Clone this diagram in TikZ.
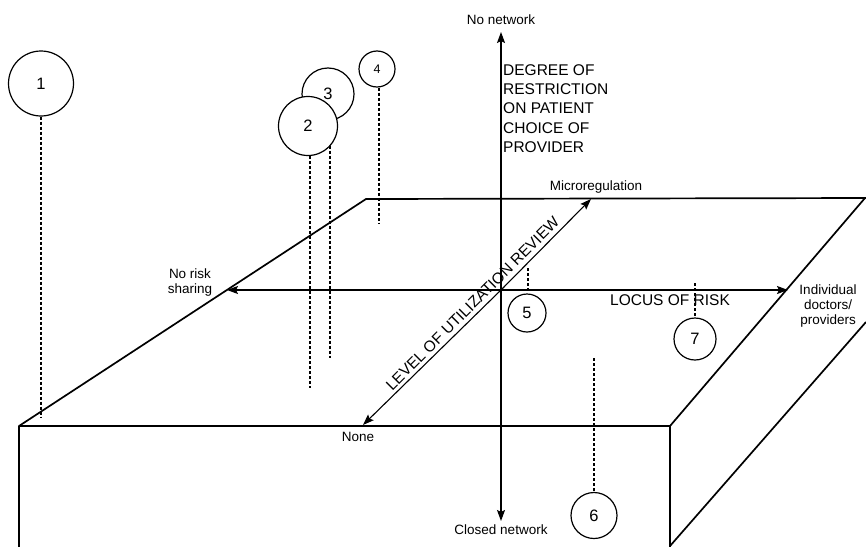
\documentclass[tikz,border=0pt]{standalone}
\usepackage{fontspec}
\setmainfont{Liberation Sans}
\usetikzlibrary{arrows.meta}
\begin{document}
\begin{tikzpicture}[x=1pt,y=-1pt,
  boxline/.style={line width=1.7pt, line join=round},
  axisarrow/.style={line width=1.1pt, -{Stealth[length=11pt,width=8pt,inset=2pt]}},
  drop/.style={line width=1.4pt, dash pattern=on 3pt off 2pt},
  num/.style={circle, draw, line width=1.2pt, inner sep=0pt, fill=white, font=\fontsize{16.5}{16.5}\selectfont},
  small/.style={font=\fontsize{13.5}{15}\selectfont, inner sep=0pt},
  caps/.style={font=\fontsize{15.5}{19.3}\selectfont, inner sep=0pt}]
\useasboundingbox (0,0) rectangle (866,546);
\clip (0,0) rectangle (866,546);
% box
\coordinate (A) at (19,426);
\coordinate (B) at (670,426);
\coordinate (C) at (366,199);
\coordinate (D) at (865,198);
\coordinate (E) at (870,198);
\coordinate (Abot) at (19,550);
\coordinate (Bbot) at (670,550);
\coordinate (Bb) at (670,546);
\coordinate (Dlow) at (866,322);
\draw[boxline] (A) -- (C) -- (E);
\draw[boxline] (D) -- (B) -- (A) -- (Abot);
\draw[boxline] (B) -- (Bbot);
\draw[boxline] (Bb) -- (Dlow);
% axes
\coordinate (O) at (501,290);
\coordinate (up) at (501,32);
\coordinate (down) at (501,521);
\coordinate (left) at (227,290);
\coordinate (right) at (788,290);
\coordinate (micro) at (591,199);
\coordinate (none) at (363,425);
\draw[axisarrow] (O) -- (up);
\draw[axisarrow] (O) -- (down);
\draw[axisarrow] (O) -- (left);
\draw[axisarrow] (O) -- (right);
\draw[axisarrow] (O) -- (micro);
\draw[axisarrow] (O) -- (none);
% labels
\node[small] (lnonet) at (501,20) {No network};
\node[small] (lclosed) at (501,530) {Closed network};
\node[small] (lmicro) at (596,187) {Microregulation};
\node[small] (lnone) at (358,437) {None};
\node[small, align=center] (lnorisk) at (190,283) {No risk\\sharing};
\node[small, align=center] (lindiv) at (828,306) {Individual\\doctors/\\providers};
\node[caps, anchor=west, align=left] (ldeg) at (503,108.5) {DEGREE OF\\RESTRICTION\\ON PATIENT\\CHOICE OF\\PROVIDER};
\node[caps] (llocus) at (670,300) {LOCUS OF RISK};
\node[caps, rotate=45] (llevel) at (472.5,303.5) {LEVEL OF UTILIZATION REVIEW};
% circles and drop lines
\node[num, minimum size=65pt] (c1) at (41,83.5) {1};
\coordinate (p1) at (41,418);
\draw[drop] (c1.south) -- (p1);
\node[num, minimum size=52pt] (c3) at (328,94) {3};
\coordinate (p3) at (330,358);
\draw[drop] (p3 |- c3.south) -- (p3);
\node[num, minimum size=59pt] (c2) at (308,126) {2};
\coordinate (p2) at (310,388);
\draw[drop] (p2 |- c2.south) -- (p2);
\node[num, minimum size=36pt, font=\fontsize{12.5}{12.5}\selectfont] (c4) at (377,69) {4};
\coordinate (p4) at (379,223);
\draw[drop] (p4 |- c4.south) -- (p4);
\node[num, minimum size=38pt] (c5) at (527,313) {5};
\coordinate (p5a) at (528,268);
\coordinate (p5b) at (528,290);
\draw[drop] (p5a) -- (p5b);
\node[num, minimum size=46pt] (c6) at (594,515.5) {6};
\coordinate (p6) at (594,358);
\draw[drop] (p6) -- (c6.north);
\node[num, minimum size=42pt] (c7) at (695,339) {7};
\coordinate (p7) at (695,283);
\draw[drop] (p7) -- (c7.north);
\end{tikzpicture}
\end{document}
